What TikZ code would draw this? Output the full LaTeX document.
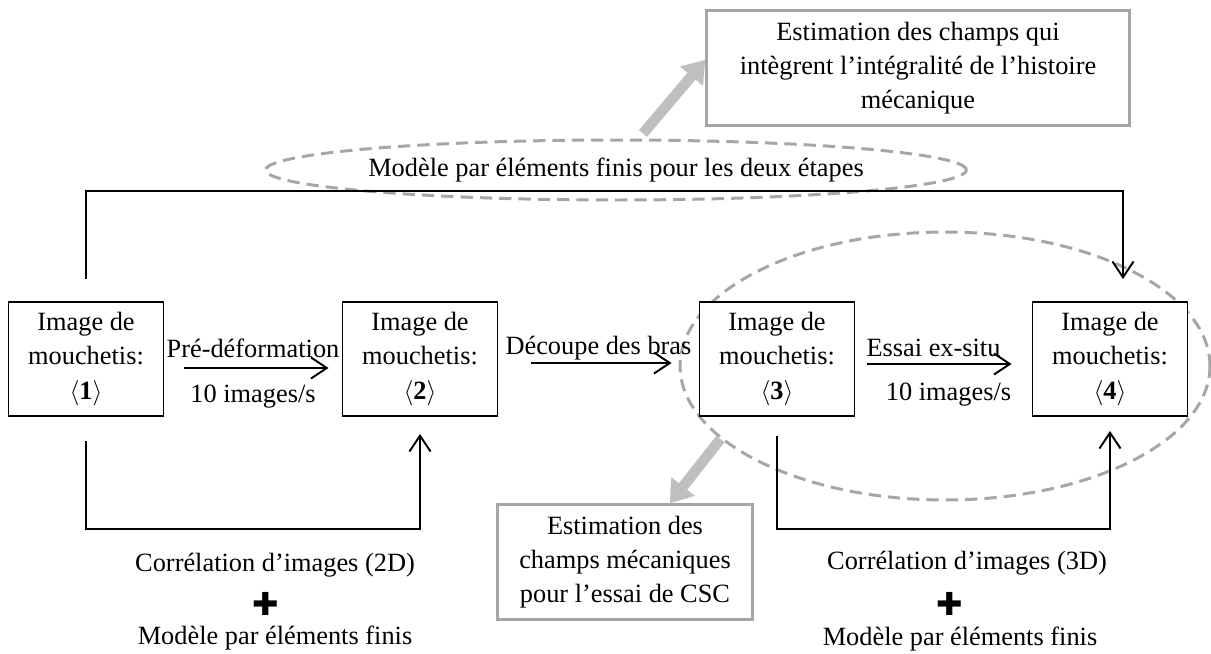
\documentclass[tikz,border=0pt]{standalone}
\usepackage{fontspec}
\setmainfont{Liberation Serif}
\newfontfamily\symfont{DejaVu Sans}
\usetikzlibrary{arrows.meta, positioning, calc, shapes.geometric}

\begin{document}
\begin{tikzpicture}[
    x=0.02cm, y=-0.02cm,
    font=\fontsize{15}{19.4}\selectfont,
    imgbox/.style={draw, fill=white, line width=1.1pt, minimum width=3.1cm, minimum height=2.28cm, align=center, inner sep=1pt},
    estbox/.style={draw=black!35, fill=white, line width=1.6pt, minimum width=#1, minimum height=2.3cm, align=center, inner sep=1pt},
    flow/.style={-{Straight Barb[length=9pt, width=12pt]}, line width=1.1pt},
    zone/.style={ellipse, draw=black!35, dash pattern=on 7pt off 4pt, line width=1.7pt},
    hint/.style={-{Triangle[length=12pt, width=17pt, line width=0.1pt]}, line width=6pt, draw=black!25},
    plus/.style={font=\symfont\fontsize{18}{18}\selectfont, inner sep=0pt}
]

\useasboundingbox (0,0) rectangle (1211,653);

% --- Dashed zones (behind the boxes) ---
\node[zone, minimum width=10.6cm, minimum height=5.36cm] (zone34) at (945,366) {};
\node[zone, minimum width=11cm, minimum height=1.2cm, inner sep=0pt] (fem) at (616,170) {Modèle par éléments finis pour les deux étapes};

% --- Speckle images ---
\node[imgbox] (img1) at (86,359)   {Image de\\mouchetis:\\$\langle$\textbf{1}$\rangle$};
\node[imgbox] (img2) at (420,359)  {Image de\\mouchetis:\\$\langle$\textbf{2}$\rangle$};
\node[imgbox] (img3) at (777,359)  {Image de\\mouchetis:\\$\langle$\textbf{3}$\rangle$};
\node[imgbox] (img4) at (1110,359) {Image de\\mouchetis:\\$\langle$\textbf{4}$\rangle$};

% --- Estimations ---
\node[estbox=8.46cm] (estAll) at (918,68) {Estimation des champs qui\\intègrent l’intégralité de l’histoire\\mécanique};
\node[estbox=5.1cm]  (estCSC) at (625,562) {Estimation des\\champs mécaniques\\pour l’essai de CSC};

% --- Steps ---
\draw[flow, shorten <=0.4cm, shorten >=0.26cm] ([yshift=-0.18cm]img1.east) -- node[above=2pt] {Pré-déformation} node[below=6pt] {10 images/s} ([yshift=-0.18cm]img2.west);
\draw[flow, shorten <=0.66cm, shorten >=0.54cm] ([yshift=-0.08cm]img2.east) -- node[above=-2pt] {Découpe des bras} ([yshift=-0.08cm]img3.west);
\draw[flow, shorten <=0.24cm, shorten >=0.4cm] ([yshift=-0.1cm]img3.east) -- node[above=0pt, xshift=-0.2cm] {Essai ex-situ} node[below=7pt, xshift=0.1cm] {10 images/s} ([yshift=-0.1cm]img4.west);

% --- Correlations ---
\coordinate (topbar) at (600,191);
\coordinate (botbar) at (600,529);
\draw[flow, shorten <=0.44cm, shorten >=0.44cm] (img1.north) -- (img1.north |- topbar) -| ([xshift=0.26cm]img4.north);
\draw[flow, shorten <=0.48cm, shorten >=0.34cm] (img1.south) -- (img1.south |- botbar) -| (img2.south);
\draw[flow, shorten <=0.38cm, shorten >=0.28cm] (img3.south) -- (img3.south |- botbar) -| (img4.south);

% --- Bottom notes ---
\node (corr2D) at (275,565) {Corrélation d’images (2D)};
\node[plus] (plus2D) at (266,604) {✚};
\node (fem2D) at (275,638) {Modèle par éléments finis};
\node (corr3D) at (967,563) {Corrélation d’images (3D)};
\node[plus] (plus3D) at (950,604) {✚};
\node (fem3D) at (960,639) {Modèle par éléments finis};

% --- Grey arrows ---
\draw[hint] ([xshift=0.54cm, yshift=0.1cm]fem.north) -- ([yshift=0.16cm]estAll.west);
\draw[hint] (zone34.198) -- ([xshift=0.9cm]estCSC.north);

\end{tikzpicture}
\end{document}
